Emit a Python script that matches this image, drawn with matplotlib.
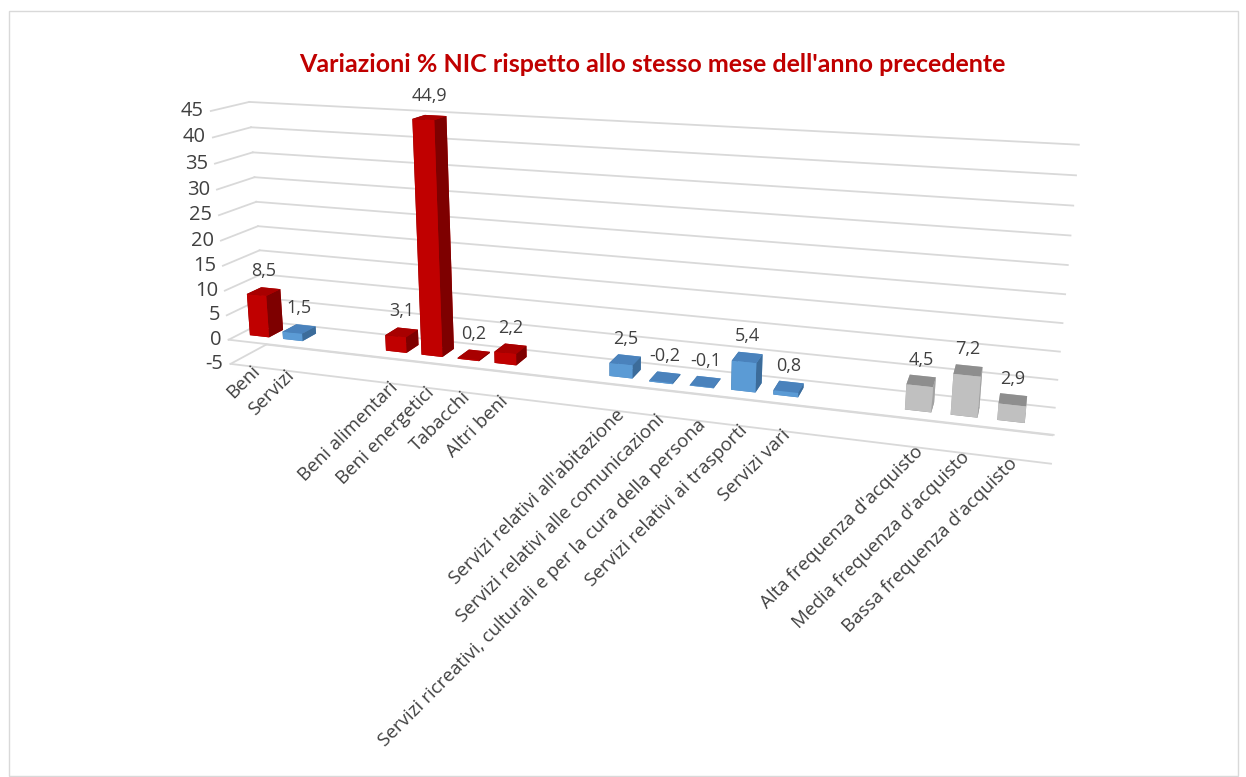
import numpy as np
import matplotlib
matplotlib.use("Agg")
import matplotlib.pyplot as plt
from matplotlib.transforms import offset_copy
from matplotlib.patches import Rectangle
from mpl_toolkits.mplot3d import proj3d

# ---------------- data ----------------
categories = ["Beni", "Servizi", "", "",
              "Beni alimentari", "Beni energetici", "Tabacchi", "Altri beni", "", "",
              "Servizi relativi all'abitazione", "Servizi relativi alle comunicazioni",
              "Servizi ricreativi, culturali e per la cura della persona",
              "Servizi relativi ai trasporti", "Servizi vari", "", "",
              "Alta frequenza d'acquisto", "Media frequenza d'acquisto",
              "Bassa frequenza d'acquisto"]
values = [8.5, 1.5, np.nan, np.nan,
          3.1, 44.9, 0.2, 2.2, np.nan, np.nan,
          2.5, -0.2, -0.1, 5.4, 0.8, np.nan, np.nan,
          4.5, 7.2, 2.9]
labels = ["8,5", "1,5", "", "", "3,1", "44,9", "0,2", "2,2", "", "",
          "2,5", "-0,2", "-0,1", "5,4", "0,8", "", "", "4,5", "7,2", "2,9"]
groups = ["red", "blue", None, None, "red", "red", "red", "red", None, None,
          "blue", "blue", "blue", "blue", "blue", None, None, "gray", "gray", "gray"]
yticks = [-5, 0, 5, 10, 15, 20, 25, 30, 35, 40, 45]
title = "Variazioni % NIC rispetto allo stesso mese dell'anno precedente"

# face colours: (front, side, top)
palette = {
    "red": ("#C00000", "#7E0000", "#A80000"),
    "blue": ("#5B9BD5", "#3C6C9A", "#4A82BC"),
    "gray": ("#C0C0C0", "#A3A3A3", "#8E8E8E"),
}

# ---------------- figure ----------------
W, H = 1246, 777
fig = plt.figure(figsize=(W / 100, H / 100), dpi=100)
fig.patch.set_facecolor("white")
fig.patches.append(Rectangle((9 / W, 1 / H), (W - 17) / W, (H - 12) / H,
                             transform=fig.transFigure, fill=False,
                             edgecolor="#D9D9D9", linewidth=1.0))

cx, cy, S = 594, 283, 1300
ax = fig.add_axes([(cx - S / 2) / W, (H - cy - S / 2) / H, S / W, S / H],
                  projection="3d")
ax.patch.set_alpha(0)
zoom = 0.98 * 900 / S
ax.set_proj_type("persp", focal_length=0.28 * zoom)
ax.view_init(elev=15, azim=-71.5)
ax.set_box_aspect((19.4, 1.6, 6.3), zoom=zoom)
n = len(categories)
xmin, xmax = -0.6, n - 0.1
ymin, ymax = 0.0, 1.0
zmin, zmax = yticks[0], yticks[-1]
ax.set_xlim(xmin, xmax)
ax.set_ylim(ymin, ymax)
ax.set_zlim(zmin, zmax)
ax.set_axis_off()
ax.computed_zorder = False

grid_kw = dict(color="#D9D9D9", lw=1.3, zorder=1, clip_on=False)
for v in yticks:
    ax.plot([xmin, xmax], [ymax, ymax], [v, v], **grid_kw)
    ax.plot([xmin, xmin], [ymin, ymax], [v, v], **grid_kw)
# front edges of the floor (at the minimum and at zero)
ax.plot([xmin, xmax], [ymin, ymin], [zmin, zmin], **grid_kw)
ax.plot([xmin, xmax], [ymin, ymin], [0, 0], **grid_kw)

# bars
bw, bd = 0.58, 0.40
xs, ys, zs, dxs, dys, dzs, fcs = [], [], [], [], [], [], []
for i, (v, g) in enumerate(zip(values, groups)):
    if g is None or np.isnan(v):
        continue
    front, side, top = palette[g]
    xs.append(i - bw / 2); ys.append(0.5 - bd / 2); zs.append(0.0)
    dxs.append(bw); dys.append(bd); dzs.append(v)
    # face order in bar3d: -z, +z, -y, +y, -x, +x
    fcs += [top, top, front, front, side, side]
bars = ax.bar3d(xs, ys, zs, dxs, dys, dzs, color=fcs, shade=False, zorder=2,
                edgecolor="none")
bars.set_clip_on(False)

font = "Open Sans"
txt_col = "#404040"
M = ax.get_proj()


def to2d(x, y, z):
    x2, y2, _ = proj3d.proj_transform(x, y, z, M)
    return x2, y2


# data labels
lab_tr = offset_copy(ax.transData, fig=fig, x=0, y=12, units="dots")
for i, (v, s) in enumerate(zip(values, labels)):
    if not s:
        continue
    px, py = to2d(i, 0.5, max(v, 0))
    ax.text2D(px, py, s, transform=lab_tr, ha="center", va="bottom",
              fontsize=13, color=txt_col, family=font, zorder=3)

# y tick labels
tick_tr = offset_copy(ax.transData, fig=fig, x=-7, y=0, units="dots")
for v in yticks:
    px, py = to2d(xmin, ymin, v)
    ax.text2D(px, py, f"{v}", transform=tick_tr, ha="right", va="center",
              fontsize=14.5, color=txt_col, family=font, zorder=3)

# category labels
cat_tr = offset_copy(ax.transData, fig=fig, x=7, y=-2, units="dots")
for i, c in enumerate(categories):
    if not c:
        continue
    px, py = to2d(i, ymin, zmin)
    ax.text2D(px, py, c, transform=cat_tr, ha="right", va="center",
              rotation=45, rotation_mode="anchor",
              fontsize=13.5, color=txt_col, family=font, zorder=3)

fig.text(652 / W, 1 - 65 / H, title, ha="center", va="center",
         fontsize=18, fontweight="bold", color="#C00000", family="Lato")

fig.savefig("out.png", dpi=100)
